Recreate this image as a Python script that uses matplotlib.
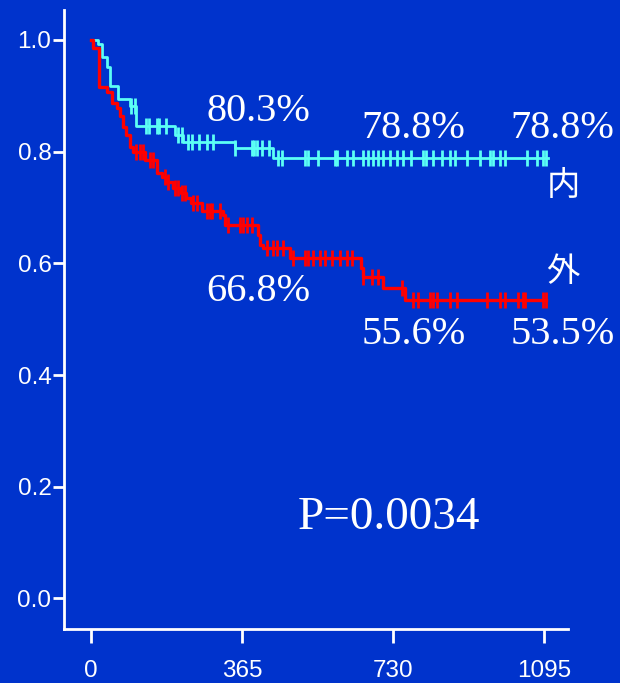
import numpy as np
import matplotlib
matplotlib.use("Agg")
from matplotlib import pyplot as plt

# 内 group: step events (day, survival after the step)
in_days = [0, 17, 26, 38, 46, 65, 94, 110, 203, 222, 348, 440]
in_surv = [1.0, 0.993, 0.970, 0.952, 0.918, 0.894, 0.882, 0.846, 0.829, 0.817, 0.806, 0.788]
in_end = 1105
in_cens = [98, 106, 133, 140, 160, 164, 181, 210, 220, 234, 244, 261, 280, 295, 348,
           389, 394, 401, 413, 430, 452, 462, 517, 524, 549, 590, 595, 619, 633, 657,
           670, 682, 694, 706, 723, 740, 754, 774, 803, 810, 827, 848, 868, 880, 909,
           940, 964, 972, 989, 1001, 1054, 1078, 1093, 1100]

# 外 group
out_days = [0, 5, 20, 38, 50, 62, 70, 77, 86, 94, 101, 131, 159, 171, 183, 198, 219,
            231, 243, 268, 319, 324, 404, 408, 416, 481, 654, 657, 706, 759]
out_surv = [1.0, 0.986, 0.916, 0.907, 0.887, 0.878, 0.863, 0.845, 0.830, 0.809, 0.800,
            0.785, 0.762, 0.755, 0.746, 0.735, 0.726, 0.717, 0.708, 0.693, 0.687, 0.668,
            0.651, 0.633, 0.628, 0.609, 0.592, 0.576, 0.556, 0.535]
out_end = 1100
out_cens = [109, 118, 126, 143, 150, 179, 186, 203, 210, 220, 227, 247, 256, 280, 288,
            292, 312, 331, 360, 367, 377, 389, 425, 440, 450, 464, 488, 517, 525, 537,
            554, 566, 583, 602, 619, 631, 657, 679, 694, 752, 778, 790, 819, 827, 836,
            868, 885, 957, 989, 1001, 1032, 1044, 1049, 1093, 1100]

xticks = [0, 365, 730, 1095]
yticks = [0.0, 0.2, 0.4, 0.6, 0.8, 1.0]

# (x day, y surv, text)
pct_labels = [(405, 0.872, "80.3%"), (780, 0.842, "78.8%"), (1140, 0.842, "78.8%"),
              (405, 0.550, "66.8%"), (780, 0.472, "55.6%"), (1140, 0.472, "53.5%")]

bg = "#0033CC"
cyan = "#5CFFF5"
red = "#FF0000"

fig = plt.figure(figsize=(6.2, 6.83), dpi=100, facecolor=bg)
ax = fig.add_axes([0.1032, 0.0791, 0.916 - 0.1032, 0.9854 - 0.0791])
ax.set_facecolor(bg)


def km(ax, days, surv, end, cens, color, lw):
    xs = list(days) + [end]
    ys = list(surv) + [surv[-1]]
    ax.step(xs, ys, where="post", color=color, lw=lw, zorder=3)
    cd = np.array(cens)
    idx = np.searchsorted(days, cd, side="right") - 1
    cy = np.array(surv)[idx]
    ax.plot(cd, cy, ls="none", marker="|", ms=11, mew=2.0, color=color, zorder=3)


km(ax, in_days, in_surv, in_end, in_cens, cyan, 2.0)
km(ax, out_days, out_surv, out_end, out_cens, red, 2.4)

ax.set_xlim(-65, 1153)
ax.set_ylim(-0.0546, 1.0537)
ax.set_xticks(xticks)
ax.set_xticklabels([str(t) for t in xticks])
ax.set_yticks(yticks)
ax.set_yticklabels([f"{t:.1f}" for t in yticks])

for s in ["top", "right"]:
    ax.spines[s].set_visible(False)
for s in ["left", "bottom"]:
    ax.spines[s].set_color("white")
    ax.spines[s].set_linewidth(2)

ax.tick_params(axis="both", colors="white", width=2, labelsize=17.5,
               labelfontfamily="Liberation Sans")
ax.tick_params(axis="y", length=8, pad=1)
ax.tick_params(axis="x", length=10, pad=12)

for x, y, t in pct_labels:
    ax.text(x, y, t, color="white", fontsize=29, family="Liberation Serif",
            ha="center", va="center")

ax.text(1141, 0.739, "内", color="white", fontsize=24,
        family=["Noto Sans CJK JP", "DejaVu Sans"], ha="center", va="center")
ax.text(1141, 0.585, "外", color="white", fontsize=24,
        family=["Noto Sans CJK JP", "DejaVu Sans"], ha="center", va="center")

ax.text(720, 0.144, "P=0.0034", color="white", fontsize=34,
        family="Liberation Serif", ha="center", va="center")

fig.savefig("out.png", dpi=100, facecolor=bg)
